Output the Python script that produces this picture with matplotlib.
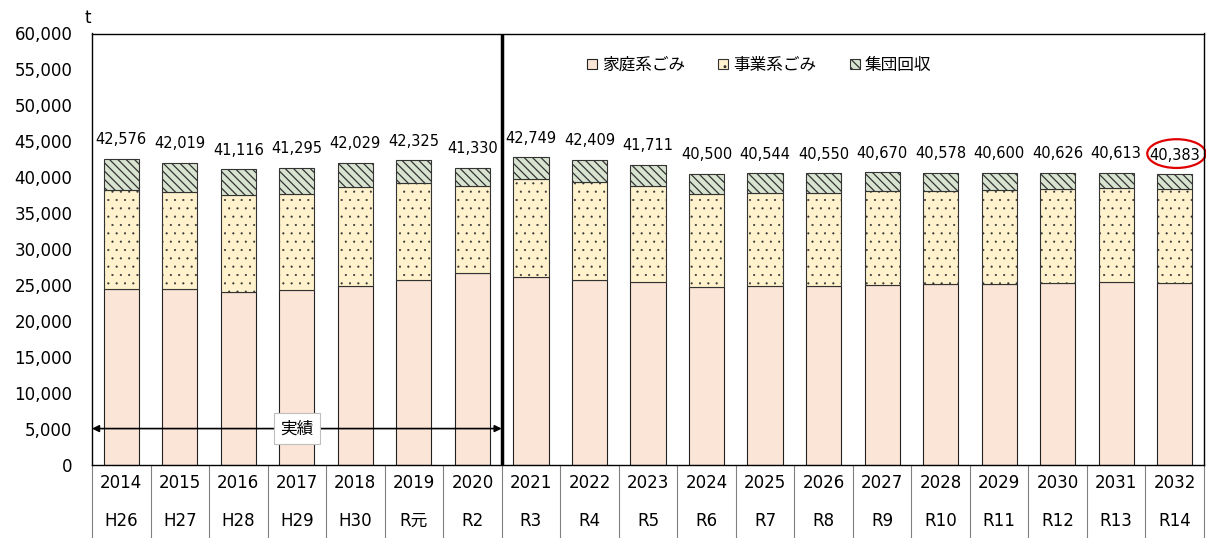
import numpy as np
import matplotlib
matplotlib.use('Agg')
from matplotlib import pyplot as plt
from matplotlib.patches import Ellipse
from matplotlib.ticker import FuncFormatter

plt.rcParams['font.family'] = ['DejaVu Sans', 'Noto Sans CJK JP']

# データ（t）
years = ['2014', '2015', '2016', '2017', '2018', '2019', '2020', '2021', '2022', '2023',
         '2024', '2025', '2026', '2027', '2028', '2029', '2030', '2031', '2032']
eras = ['H26', 'H27', 'H28', 'H29', 'H30', 'R元', 'R2', 'R3', 'R4', 'R5',
        'R6', 'R7', 'R8', 'R9', 'R10', 'R11', 'R12', 'R13', 'R14']
household = [24470, 24470, 24060, 24250, 24850, 25640, 26700, 26150, 25640, 25360,
             24710, 24850, 24850, 24990, 25130, 25130, 25270, 25410, 25270]
business = [13750, 13470, 13420, 13450, 13740, 13510, 12030, 13600, 13650, 13370,
            12910, 12950, 12950, 13130, 12990, 13090, 13090, 13040, 13040]
totals = [42576, 42019, 41116, 41295, 42029, 42325, 41330, 42749, 42409, 41711,
          40500, 40544, 40550, 40670, 40578, 40600, 40626, 40613, 40383]
collection = [t - h - b for t, h, b in zip(totals, household, business)]
n_actual = 7  # 実績の年数

x = np.arange(len(years))
hh = np.array(household)
bz = np.array(business)

fig = plt.figure(figsize=(12.06, 5.38), dpi=100)
ax = fig.add_axes([92/1206, (538-464.5)/538, 1112/1206, 431/538])

w = 0.6
b1 = ax.bar(x, hh, w, color='#FBE5D6', edgecolor='#222222', lw=0.8, label='家庭系ごみ')
plt.rcParams['hatch.linewidth'] = 0.3
b2 = ax.bar(x, bz, w, bottom=hh, color='#FFF2CC', edgecolor='#333333', lw=0.8,
            hatch='..', label='事業系ごみ')
plt.rcParams['hatch.linewidth'] = 0.9
b3 = ax.bar(x, collection, w, bottom=hh+bz, color='#D8E4D0', edgecolor='#333333', lw=0.8,
            hatch='\\'*4, label='集団回収')

# 合計ラベル
for i, t in enumerate(totals):
    ax.annotate('{:,}'.format(t), (x[i], t), xytext=(0, 10.5), textcoords='offset points',
                ha='center', va='baseline', fontsize=10.5)
# 最終年を赤丸で囲む
ax.add_patch(Ellipse((x[-1] + 0.03, totals[-1] + 2900), 1.0, 4000,
                     fill=False, ec='#E00000', lw=1.6, clip_on=False))

ax.set_xlim(-0.5, len(years) - 0.5)
ax.set_ylim(0, 60000)
ax.set_yticks(np.arange(0, 60001, 5000))
ax.yaxis.set_major_formatter(FuncFormatter(lambda v, p: '{:,.0f}'.format(v)))
ax.tick_params(axis='y', length=0, pad=14, labelsize=12)
ax.set_xticks([])
for s in ax.spines.values():
    s.set_linewidth(1.0)
    s.set_color('black')

# 実績と推計の区切り
ax.axvline(n_actual - 0.5, color='black', lw=2.5)
ax.annotate('', xy=(-0.5, 5000), xytext=(n_actual - 0.5, 5000),
            arrowprops=dict(arrowstyle='<|-|>', color='black', lw=1.2,
                            mutation_scale=10, shrinkA=0, shrinkB=0))
ax.text((n_actual - 1) / 2, 5000, '実績', ha='center', va='center', fontsize=12,
        bbox=dict(boxstyle='square,pad=0.4', fc='white', ec='#BFBFBF', lw=0.8))

# 横軸の表
trans = ax.get_xaxis_transform()
for i in range(len(years)):
    ax.text(x[i], -0.042, years[i], transform=trans, ha='center', va='center', fontsize=12)
    ax.text(x[i], -0.13, eras[i], transform=trans, ha='center', va='center', fontsize=12)
for i in range(len(years) + 1):
    ax.plot([i - 0.5, i - 0.5], [0, -0.175], transform=trans, color='#808080', lw=0.8,
            clip_on=False)

ax.text(-0.004, 1.036, 't', transform=ax.transAxes, ha='center', va='center', fontsize=12)

ax.legend(handles=[b1, b2, b3], loc='center', bbox_to_anchor=(0.60, 0.927), ncol=3,
          frameon=False, fontsize=12, handlelength=0.6, handleheight=0.6,
          handletextpad=0.3, columnspacing=2.0)

fig.savefig('out.png', dpi=100)
